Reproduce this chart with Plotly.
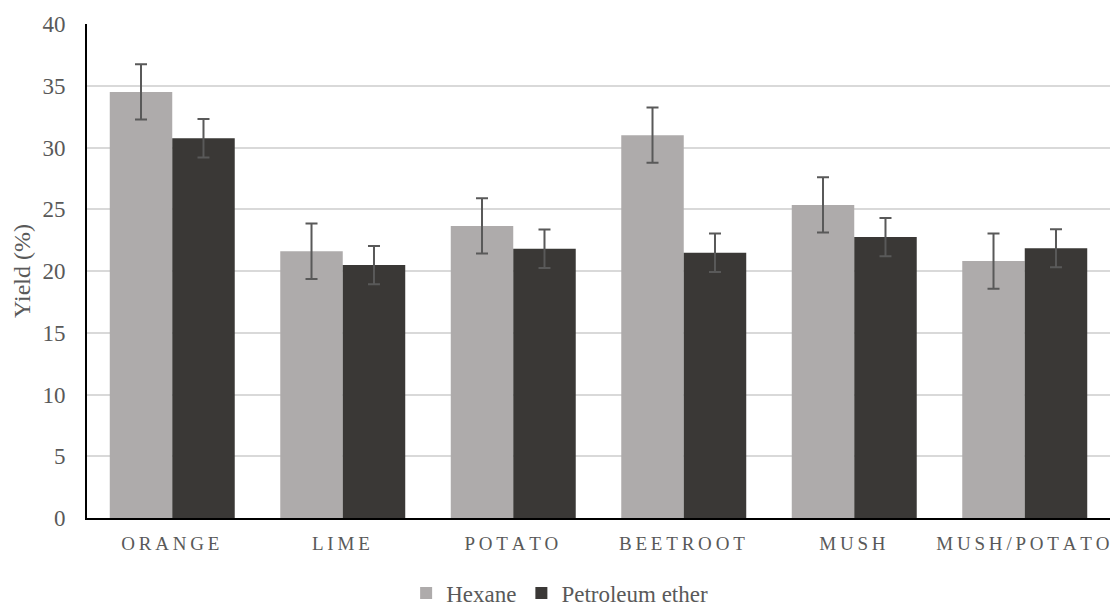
import plotly.graph_objects as go

categories = ["ORANGE", "LIME", "POTATO", "BEETROOT", "MUSH", "MUSH/POTATO"]
hexane = [34.5, 21.6, 23.65, 31.0, 25.35, 20.8]
hexane_err = [2.24, 2.24, 2.24, 2.24, 2.24, 2.24]
petroleum = [30.75, 20.48, 21.8, 21.48, 22.75, 21.85]
petroleum_err = [1.55, 1.55, 1.56, 1.56, 1.55, 1.54]
y_ticks = [0, 5, 10, 15, 20, 25, 30, 35, 40]

SP = "\u2009"
tick_text = [SP.join(list(c)) + SP for c in categories]

FONT = "'Liberation Serif', 'Times New Roman', 'DejaVu Serif', serif"
GREY_TXT = "#595959"

fig = go.Figure()
fig.add_trace(go.Bar(
    name="Hexane", x=categories, y=hexane,
    marker=dict(color="#AEABAB", line=dict(width=0)),
    error_y=dict(type="data", array=hexane_err, visible=True,
                 color="#595959", thickness=2, width=6),
))
fig.add_trace(go.Bar(
    name="Petroleum ether", x=categories, y=petroleum,
    marker=dict(color="#3A3836", line=dict(width=0)),
    error_y=dict(type="data", array=petroleum_err, visible=True,
                 color="#595959", thickness=2, width=6),
))

fig.update_layout(
    width=1116, height=606,
    margin=dict(l=87, r=6, t=24, b=88, autoexpand=False),
    paper_bgcolor="white", plot_bgcolor="white",
    barmode="group", bargap=0.267, bargroupgap=0,
    font=dict(family=FONT, color=GREY_TXT, size=20),
    showlegend=True,
    legend=dict(orientation="h", x=0.462, xanchor="center", y=-0.152, yanchor="middle",
                font=dict(family=FONT, size=23, color=GREY_TXT),
                itemwidth=30, traceorder="normal"),
    xaxis=dict(
        tickmode="array", tickvals=categories, ticktext=tick_text,
        tickfont=dict(family=FONT, size=19, color=GREY_TXT),
        showline=True, linecolor="black", linewidth=2,
        ticks="", showgrid=False, ticklabelstandoff=7, automargin=False,
    ),
    yaxis=dict(
        range=[0, 40], tickmode="array", tickvals=y_ticks,
        tickfont=dict(family=FONT, size=23, color=GREY_TXT),
        showline=True, linecolor="black", linewidth=2,
        showgrid=True, gridcolor="#D9D9D9", gridwidth=1.5,
        zeroline=False, ticks="", ticklabelstandoff=15, automargin=False,
        title=dict(text="Yield (%)", font=dict(family=FONT, size=24, color=GREY_TXT), standoff=5),
    ),
)

fig.write_html("out.html", config={"displayModeBar": False},
               post_script="document.body.style.margin='0';")
